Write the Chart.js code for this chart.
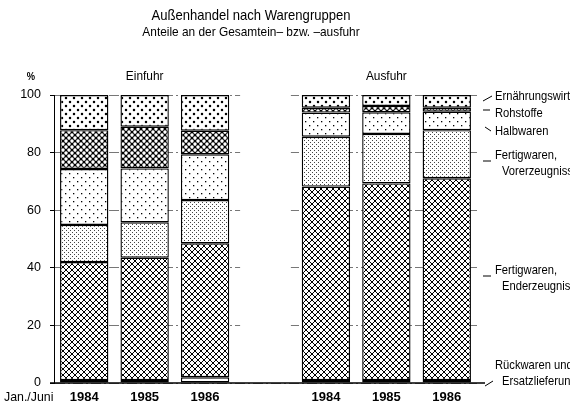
<!DOCTYPE html>
<html>
<head>
<meta charset="utf-8">
<script src="https://cdn.jsdelivr.net/npm/chart.js@4/dist/chart.umd.min.js"></script>
<style>
html,body{margin:0;padding:0;background:#fff;}
canvas{display:block;}
</style>
</head>
<body>
<canvas id="c" width="570" height="406"></canvas>
<script>
// ---- data (shares in % of total imports / exports, Jan./Juni) ----
const categories = ['1984', '1985', '1986', '', '1984', '1985', '1986'];
const groupLabels = ['Einfuhr', 'Ausfuhr'];
const seriesNames = [
  'Rückwaren und Ersatzlieferungen',
  'Fertigwaren, Enderzeugnisse',
  'Fertigwaren, Vorerzeugnisse',
  'Halbwaren',
  'Rohstoffe',
  'Ernährungswirtschaft'
];
const rueckwaren   = [1.0, 1.0, 2.0, null, 1.0, 1.0, 1.0];
const enderzeug    = [41.0, 42.5, 46.5, null, 67.2, 68.3, 70.1];
const vorerzeug    = [12.9, 12.3, 15.0, null, 17.3, 17.2, 16.7];
const halbwaren    = [19.4, 18.7, 15.9, null, 8.4, 7.5, 6.4];
const rohstoffe    = [13.5, 14.5, 8.2, null, 1.7, 2.2, 1.4];
const ernaehrung   = [12.2, 11.0, 12.4, null, 4.4, 3.8, 4.4];
const yTicks = [0, 20, 40, 60, 80, 100];

// ---- hatch patterns ----
function makePattern(size, draw) {
  const c = document.createElement('canvas');
  c.width = size; c.height = size;
  const g = c.getContext('2d');
  g.fillStyle = '#fff'; g.fillRect(0, 0, size, size);
  g.fillStyle = '#000'; g.strokeStyle = '#000';
  draw(g, size);
  return document.getElementById('c').getContext('2d').createPattern(c, 'repeat');
}
const patCross = makePattern(6, (g, s) => {
  g.lineWidth = 1;
  g.beginPath();
  g.moveTo(-1, -1); g.lineTo(s + 1, s + 1);
  g.moveTo(s + 1, -1); g.lineTo(-1, s + 1);
  g.stroke();
});
const patFine = makePattern(4, (g) => {
  g.fillStyle = '#444';
  g.fillRect(0, 0, 1, 1); g.fillRect(2, 2, 1, 1);
});
const patSparse = makePattern(8, (g) => {
  g.fillRect(1, 1, 1.3, 1.3); g.fillRect(5, 5, 1.3, 1.3);
});
const patHeavy = makePattern(6, (g, s) => {
  g.lineWidth = 0.8;
  g.beginPath();
  g.moveTo(-1, -1); g.lineTo(s + 1, s + 1);
  g.moveTo(s + 1, -1); g.lineTo(-1, s + 1);
  g.stroke();
  [[0,0],[6,0],[0,6],[6,6],[3,3]].forEach(p => { g.beginPath(); g.arc(p[0], p[1], 1.6, 0, Math.PI*2); g.fill(); });
});
const patDots = makePattern(8, (g) => {
  [[2,2],[6,6]].forEach(p => { g.beginPath(); g.arc(p[0], p[1], 1.25, 0, Math.PI*2); g.fill(); });
});

const SANS = '"Liberation Sans", Arial, sans-serif';

function ds(label, data, bg) {
  return { label, data, backgroundColor: bg, borderColor: '#000', borderWidth: 1.4, borderSkipped: false };
}

// condensed text helper (horizontal squeeze like the original typeface)
function narrowText(ctx, s, x, y, sx, align) {
  ctx.save();
  ctx.translate(x, y);
  ctx.scale(sx, 1);
  ctx.textAlign = align;
  ctx.fillText(s, 0, 0);
  ctx.restore();
}

const decor = {
  id: 'decor',
  beforeDatasetsDraw(chart) {
    const ctx = chart.ctx, x = chart.scales.x, a = chart.chartArea;
    const w = x.getPixelForValue(1) - x.getPixelForValue(0);
    const cx = x.getPixelForValue(3);
    ctx.save();
    ctx.fillStyle = '#fff';
    ctx.fillRect(cx - w * 0.42, a.top - 1, w * 0.84, a.bottom - a.top);
    ctx.restore();
  },
  afterDraw(chart) {
    const ctx = chart.ctx, x = chart.scales.x, y = chart.scales.y, a = chart.chartArea;
    ctx.save();
    ctx.fillStyle = '#000'; ctx.strokeStyle = '#000';
    ctx.textBaseline = 'middle';
    // titles
    ctx.font = '14.5px ' + SANS;
    narrowText(ctx, 'Außenhandel nach Warengruppen', 251, 16, 0.9, 'center');
    ctx.font = '13.5px ' + SANS;
    narrowText(ctx, 'Anteile an der Gesamtein– bzw. –ausfuhr', 251, 32, 0.88, 'center');
    // group labels
    ctx.font = '13.5px ' + SANS;
    narrowText(ctx, groupLabels[0], x.getPixelForValue(1), 76, 0.88, 'center');
    narrowText(ctx, groupLabels[1], x.getPixelForValue(5), 76, 0.88, 'center');
    ctx.font = 'bold 11px ' + SANS;
    narrowText(ctx, '%', 31, 77, 0.85, 'center');
    ctx.font = '13px ' + SANS;
    narrowText(ctx, 'Jan./Juni', 4, 397, 0.95, 'left');
    // baseline
    ctx.lineWidth = 1.5;
    ctx.beginPath(); ctx.moveTo(a.left - 4, y.getPixelForValue(0)); ctx.lineTo(a.right + 8, y.getPixelForValue(0)); ctx.stroke();
    // right-hand labels with leader lines
    ctx.font = '13px ' + SANS;
    ctx.lineWidth = 1;
    const L = [
      { t: ['Ernährungswirtschaft'], ty: 96, l: [483, 101, 492, 96] },
      { t: ['Rohstoffe'], ty: 113, l: [483, 110, 490, 110] },
      { t: ['Halbwaren'], ty: 131, l: [485, 127, 491, 131] },
      { t: ['Fertigwaren,', 'Vorerzeugnisse'], ty: 155, l: [483, 161, 491, 161] },
      { t: ['Fertigwaren,', 'Enderzeugnisse'], ty: 270, l: [483, 276, 491, 276] },
      { t: ['Rückwaren und', 'Ersatzlieferungen'], ty: 365, l: [485, 386, 493, 381] }
    ];
    L.forEach(o => {
      o.t.forEach((s, i) => narrowText(ctx, s, i === 0 ? 495 : 502, o.ty + i * 16, 0.86, 'left'));
      ctx.beginPath(); ctx.moveTo(o.l[0], o.l[1]); ctx.lineTo(o.l[2], o.l[3]); ctx.stroke();
    });
    ctx.restore();
  }
};

new Chart(document.getElementById('c'), {
  type: 'bar',
  data: {
    labels: categories,
    datasets: [
      ds(seriesNames[0], rueckwaren, '#fff'),
      ds(seriesNames[1], enderzeug, patCross),
      ds(seriesNames[2], vorerzeug, patFine),
      ds(seriesNames[3], halbwaren, patSparse),
      ds(seriesNames[4], rohstoffe, patHeavy),
      ds(seriesNames[5], ernaehrung, patDots)
    ]
  },
  options: {
    responsive: false,
    animation: false,
    devicePixelRatio: 1,
    layout: { padding: { top: 95, right: 93, left: 0, bottom: 0 } },
    datasets: { bar: { barPercentage: 0.8, categoryPercentage: 1 } },
    plugins: { legend: { display: false }, tooltip: { enabled: false }, title: { display: false } },
    scales: {
      x: {
        stacked: true,
        grid: { display: false, drawTicks: false },
        border: { display: false },
        ticks: { color: '#000', font: { family: SANS, size: 13, weight: 'bold' }, padding: 7, maxRotation: 0, autoSkip: false },
        afterFit: s => { s.height = 23; }
      },
      y: {
        stacked: true,
        min: 0, max: 100,
        afterBuildTicks: s => { s.ticks = yTicks.map(v => ({ value: v })); },
        grid: { color: '#777', lineWidth: 1, tickLength: 4, tickColor: '#000' },
        border: { display: true, color: '#000', width: 1, dash: [10, 3, 2, 3] },
        ticks: { color: '#000', font: { family: SANS, size: 12.5 }, padding: 9 },
        afterFit: s => { s.width = 54; }
      }
    }
  },
  plugins: [decor]
});
</script>
</body>
</html>
